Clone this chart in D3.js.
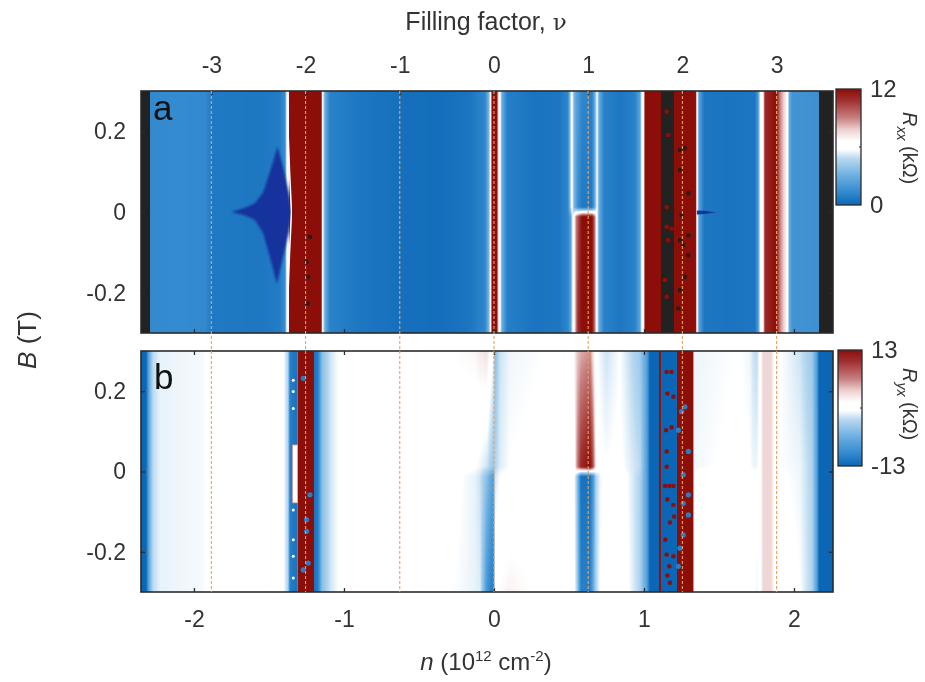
<!DOCTYPE html>
<html>
<head>
<meta charset="utf-8">
<script src="https://cdn.jsdelivr.net/npm/d3@7"></script>
<style>
  html, body { margin: 0; background: #fff; }
  #wrap { position: relative; width: 925px; height: 682px; overflow: hidden; }
  canvas { position: absolute; filter: blur(0.5px); }
  svg { position: absolute; left: 0; top: 0; }
  text { font-family: "Liberation Sans", Arial, sans-serif; fill: #333; }
</style>
</head>
<body>
<div id="wrap"></div>
<script>
// colour map shared by both panels, t in 0..1
const cmapT = [0, 0.1, 0.25, 0.4, 0.48, 0.55, 0.65, 0.75, 0.9, 1];
const cmapColors = ["#0b66b5", "#2f87cd", "#6aaee0", "#b8d8f0", "#ffffff", "#ffffff", "#ecd0d0", "#c88080", "#a03030", "#8b0e08"];

const nTicks = [-2, -1, 0, 1, 2];
const nuTicks = [-3, -2, -1, 0, 1, 2, 3];
const bTicks = [-0.2, 0, 0.2];
const nPerNu = 0.628;

// panel a, Rxx (kOhm): NaN = no data (dark bands)
const nA = [-2.353, -2.296, -2.293, -2.12, -1.927, -1.88, -1.56, -1.427, -1.393, -1.38, -1.37, -1.367, -1.153, -1.143, -1.127, -1.093, -0.893, -0.627, -0.36, -0.16, -0.06, -0.033, -0.02, -0.01, 0.017, 0.027, 0.04, 0.053, 0.087, 0.273, 0.44, 0.493, 0.513, 0.52, 0.533, 0.547, 0.56, 0.587, 0.653, 0.673, 0.687, 0.7, 0.733, 0.84, 0.94, 0.973, 0.987, 1.0, 1.007, 1.113, 1.117, 1.194, 1.197, 1.343, 1.353, 1.367, 1.4, 1.573, 1.74, 1.76, 1.777, 1.793, 1.807, 1.88, 1.907, 1.947, 1.957, 1.97, 1.987, 2.167, 2.17, 2.26];
const rxxTop = [NaN, NaN, 1.3, 1.4, 1.3, 0.7, 0.6, 0.8, 1.5, 6.2, 6.5, 12, 12, 6.5, 3, 1, 0.6, 0.35, 0.3, 0.55, 1.2, 3.5, 8, 12, 12, 8, 6.2, 3, 0.9, 0.5, 0.6, 1.2, 5, 6.2, 3.5, 2.5, 2.2, 1.2, 1, 3, 6, 3, 1, 0.6, 1, 2.5, 6.2, 7, 12, 12, NaN, NaN, 12, 12, 6.5, 2.5, 0.6, 0.5, 0.6, 2, 6.2, 6.5, 11, 12, 9, 7, 6.2, 3, 1.8, 1.6, NaN, NaN];
const rxxNearP = [NaN, NaN, 1.3, 1.4, 1.3, 0.7, 0.6, 0.8, 1.5, 6.2, 6.5, 12, 12, 6.5, 3, 1, 0.6, 0.35, 0.3, 0.55, 1.2, 3.5, 8, 12, 12, 8, 6.2, 3, 0.9, 0.5, 0.6, 1.2, 5, 6.2, 3.5, 2.5, 1.5, 0.7, 0.7, 3, 6, 3, 1, 0.6, 1, 2.5, 6.2, 7, 12, 12, NaN, NaN, 12, 12, 6.5, 2.5, 0.6, 0.5, 0.6, 2, 6.2, 6.5, 11, 12, 9, 7, 6.2, 3, 1.8, 1.6, NaN, NaN];
const rxxNearM = [NaN, NaN, 1.3, 1.4, 1.3, 0.7, 0.6, 0.8, 1.5, 6.2, 6.5, 12, 12, 6.5, 3, 1, 0.6, 0.35, 0.3, 0.55, 1.2, 3.5, 8, 12, 12, 8, 6.2, 3, 0.9, 0.5, 0.6, 1.2, 2.5, 5, 6.2, 9, 10, 12, 12, 9, 6, 3, 1, 0.6, 1, 2.5, 6.2, 7, 12, 12, NaN, NaN, 12, 12, 6.5, 2.5, 0.6, 0.5, 0.6, 2, 6.2, 6.5, 11, 12, 9, 7, 6.2, 3, 1.8, 1.6, NaN, NaN];
const rxxBottom = [NaN, NaN, 1.3, 1.4, 1.3, 0.7, 0.6, 0.8, 1.5, 6.2, 6.5, 12, 12, 6.5, 3, 1, 0.6, 0.35, 0.3, 0.55, 1.2, 3.5, 8, 12, 12, 8, 6.2, 3, 0.9, 0.5, 0.6, 1.2, 2.5, 5, 6.2, 9, 11, 12, 12, 9, 6, 3, 1, 0.6, 1, 2.5, 6.2, 7, 12, 12, NaN, NaN, 12, 12, 6.5, 2.5, 0.6, 0.5, 0.6, 2, 6.2, 6.5, 11, 12, 9, 7, 6.2, 3, 1.8, 1.6, NaN, NaN];
const rowsB_A = [0.3, 0.012, -0.012, -0.3];

// dark wedge beside nu = -2 and the streak beside nu = 2
const wedgeN = [-1.749, -1.66, -1.593, -1.54, -1.493, -1.443, -1.407, -1.367, -1.35, -1.367, -1.407, -1.447, -1.493, -1.54, -1.593, -1.66];
const wedgeB = [0, 0.01, 0.022, 0.047, 0.099, 0.161, 0.112, 0.047, 0, -0.05, -0.112, -0.177, -0.112, -0.05, -0.02, -0.008];
const edgeN = [-1.377, -1.373, -1.363, -1.35, -1.363, -1.373, -1.377];
const edgeB = [0.3, 0.2, 0.1, 0, -0.1, -0.2, -0.3];
const streakN = [1.353, 1.4, 1.48, 1.4, 1.353];
const streakB = [0.004, 0.003, -0.001, -0.005, -0.006];

// specks in the saturated bands of panel a
const darkSpecksN = [1.24, 1.273, 1.24, 1.251, 1.296, 1.262, 1.296, 1.24, 1.273, 1.24, 1.229, 1.296, -1.227, -1.249, -1.238, -1.242];
const darkSpecksB = [0.154, 0.158, 0.104, -0.008, -0.058, -0.082, -0.107, -0.07, -0.161, -0.194, -0.239, 0.046, -0.062, -0.124, -0.161, -0.227];
const redSpecksAN = [1.162, 1.151, 1.151, 1.162, 1.14, 1.151, 1.184, 1.151];
const redSpecksAB = [0.191, 0.012, -0.037, -0.07, -0.169, 0.249, -0.041, -0.21];

// panel b, Ryx (kOhm)
const nB = [-2.353, -2.32, -2.3, -2.273, -2.227, -1.96, -1.88, -1.727, -1.627, -1.46, -1.407, -1.373, -1.36, -1.32, -1.31, -1.307, -1.2, -1.197, -1.173, -1.147, -1.093, -1.027, -0.627, -0.493, -0.26, -0.127, -0.093, -0.047, -0.02, -0.003, 0.007, 0.04, 0.107, 0.307, 0.507, 0.533, 0.553, 0.58, 0.64, 0.66, 0.68, 0.707, 0.747, 0.84, 0.973, 1.02, 1.04, 1.1, 1.102, 1.11, 1.113, 1.22, 1.223, 1.32, 1.327, 1.333, 1.373, 1.64, 1.707, 1.727, 1.753, 1.773, 1.793, 1.847, 1.867, 1.893, 1.92, 2.04, 2.12, 2.153, 2.167, 2.26];
const ryxTop = [-13, -13, -7, -2.5, -1.2, -0.8, -0.3, 0, 0.3, 0.3, -0.2, -3, -11, -12, -12, 13, 13, -12, -11, -5, -2, -0.3, 0, 0.8, 1.4, 1.8, 2.5, 3, 0.5, -1, -5, -2, -1, -0.6, -0.2, 1.5, 4, 5, 6, 3, -0.4, -1, -2, -0.6, -4, -8, -13, -13, 13, 13, -13, -13, 13, 13, 13, -1, -1, -0.5, -1, -2, -2.5, 0, 3.5, 3.5, 1.5, 0.3, -0.6, -2, -4, -8, -13, -13];
const ryxNearP = [-13, -13, -7, -2.5, -1.2, -0.8, -0.3, 0, 0, 0, -0.2, -3, -11, -12, -12, 13, 13, -12, -11, -5, -2, -0.3, 0, 0, 0, -0.3, -1, -2, -3.5, -4, -3, -1.5, -0.5, -0.2, -0.1, 0, 6, 11, 13, 9, 2, -0.2, -0.5, -0.2, -2.5, -8, -13, -13, 13, 13, -13, -13, 13, 13, 13, -1, -0.8, -0.2, -0.5, -1, -1, 0, 3.5, 3.5, 1.5, 0.3, -0.6, -1, -3, -8, -13, -13];
const ryxNearM = [-13, -13, -7, -2.5, -1.2, -0.8, -0.3, 0, 0, 0, -0.2, -3, -11, -12, -12, 13, 13, -12, -11, -5, -2, -0.3, 0, 0, -0.2, -1.2, -2, -5, -7, -8, -2, -0.5, 0, 0.6, 0.8, 0, -4, -12, -12, -9, -3, -1, 0, 0.8, -3, -8, -13, -13, 13, 13, -13, -13, 13, 13, 13, -1, 0.5, 0.5, 0.2, 0, 0, 0, 3.5, 3.5, 1.5, 0.3, -0.3, -1, -3, -8, -13, -13];
const ryxBottom = [-13, -13, -7, -2.5, -1.2, -0.8, -0.3, 0, 0, 0, -0.2, -3, -11, -12, -12, 13, 13, -12, -11, -5, -2, -0.3, 0, -0.2, -0.6, -1.2, -1.5, -9, -11, -11, 1, 1.5, 2, 1, 0.6, 0, -3, -11, -11, -7, -3, -0.5, 1, 1.4, -3, -8, -13, -13, 13, 13, -13, -13, 13, 13, 13, -1, 1, 0.8, 0.5, 0, -1, 0, 3.5, 3.5, 1.5, 0.3, 0.3, -0.5, -3, -8, -13, -13];
const rowsB_B = [0.3, 0.012, -0.012, -0.3];

// specks in the saturated bands of panel b
const blueSpecksN = [1.273, 1.296, 1.262, 1.296, 1.262, 1.296, 1.262, 1.24, 1.229, 1.229, 1.251, -1.227, -1.249, -1.249, -1.238, -1.271, -1.271];
const blueSpecksB = [0.161, 0.05, -0.008, -0.058, -0.079, -0.108, -0.158, -0.191, -0.236, 0.103, 0.149, -0.058, -0.12, -0.149, -0.228, 0.232, -0.245];
const redSpecksBN = [1.151, 1.184, 1.156, 1.196, 1.147, 1.184, 1.151, 1.151, 1.14, 1.169, 1.196, 1.156, 1.196, 1.2, 1.173, 1.142, 1.151, 1.196, 1.169, 1.156, 1.173];
const redSpecksBB = [0.248, 0.248, 0.194, 0.186, 0.103, 0.11, 0.05, 0.012, -0.036, -0.036, -0.036, -0.069, -0.083, -0.112, -0.127, -0.17, -0.207, -0.211, -0.236, -0.259, -0.277];
const whiteSpecksN = [-1.338, -1.338, -1.338, -1.338, -1.338, -1.338, -1.338];
const whiteSpecksB = [0.227, 0.199, 0.157, -0.096, -0.17, -0.211, -0.265];
const boxN = [-1.342, -1.309];
const boxB = [-0.078, 0.066];

const W = 925, H = 682;
const left = 141, right = 833;
const panelA = { top: 91, bottom: 333 };
const panelB = { top: 351, bottom: 592 };
const frameColor = "#2b2b2b";
const noData = "#222222";
const dashColor = "#e9a262";

const wrap = d3.select("#wrap");
const cmap = d3.scaleLinear().domain(cmapT).range(cmapColors).clamp(true);
const colorA = (v) => cmap(d3.scaleLinear().domain([0, 12]).range([0, 1])(v));
const colorB = (v) => cmap(d3.scaleLinear().domain([-13, 13]).range([0, 1])(v));

const x = d3.scaleLinear().domain([-2.353, 2.26]).range([left, right]);
const xNu = d3.scaleLinear().domain(x.domain().map((d) => d / nPerNu)).range([left, right]);
const yA = d3.scaleLinear().domain([-0.3, 0.3]).range([panelA.bottom, panelA.top]);
const yB = d3.scaleLinear().domain([-0.3, 0.3]).range([panelB.bottom, panelB.top]);

function drawMap(nStops, rows, rowB, color, y, box) {
  const w = right - left, h = box.bottom - box.top;
  const canvas = wrap.append("canvas")
    .attr("width", w).attr("height", h)
    .style("left", left + "px").style("top", box.top + "px").node();
  const ctx = canvas.getContext("2d");
  const rowScales = rows.map((r) => d3.scaleLinear().domain(nStops).range(r).clamp(true));
  const rowIndex = d3.scaleLinear().domain(rowB).range(d3.range(rowB.length)).clamp(true);
  for (let i = 0; i < w; i++) {
    const n = x.invert(left + i + 0.5);
    const vals = rowScales.map((s) => s(n));
    for (let j = 0; j < h; j++) {
      const k = rowIndex(y.invert(box.top + j + 0.5));
      const k0 = Math.min(Math.floor(k), rows.length - 2);
      const f = k - k0;
      const v = vals[k0] * (1 - f) + vals[k0 + 1] * f;
      ctx.fillStyle = Number.isNaN(v) ? noData : color(v);
      ctx.fillRect(i, j, 1, 1);
    }
  }
}

drawMap(nA, [rxxTop, rxxNearP, rxxNearM, rxxBottom], rowsB_A, colorA, yA, panelA);
drawMap(nB, [ryxTop, ryxNearP, ryxNearM, ryxBottom], rowsB_B, colorB, yB, panelB);

const svg = wrap.append("svg").attr("width", W).attr("height", H);
const defs = svg.append("defs");
defs.append("filter").attr("id", "soft").append("feGaussianBlur").attr("stdDeviation", 0.6);
defs.append("filter").attr("id", "softer").append("feGaussianBlur").attr("stdDeviation", 1.3);
defs.append("clipPath").attr("id", "clipA").append("rect")
  .attr("x", left).attr("y", panelA.top).attr("width", right - left).attr("height", panelA.bottom - panelA.top);

// overlays on panel a
const lineA = d3.line().x((d) => x(d[0])).y((d) => yA(d[1]));
const layerA = svg.append("g").attr("clip-path", "url(#clipA)");
layerA.append("path")
  .attr("d", lineA(d3.zip(wedgeN, wedgeB)) + "Z")
  .attr("fill", "#12309c").attr("filter", "url(#softer)");
layerA.append("path")
  .attr("d", lineA(d3.zip(edgeN, edgeB)))
  .attr("fill", "none").attr("stroke", "#fff").attr("stroke-width", 1.6).attr("filter", "url(#soft)");
layerA.append("path")
  .attr("d", lineA(d3.zip(streakN, streakB)) + "Z")
  .attr("fill", "#12309c").attr("filter", "url(#soft)");

function specks(ns, bs, y, fill, r) {
  svg.append("g").attr("filter", "url(#soft)").selectAll("circle")
    .data(d3.zip(ns, bs))
    .join("circle")
    .attr("cx", (d) => x(d[0]))
    .attr("cy", (d) => y(d[1]))
    .attr("r", r)
    .attr("fill", fill);
}
specks(darkSpecksN, darkSpecksB, yA, "#2a1a1a", 2.2);
specks(redSpecksAN, redSpecksAB, yA, "#8b0e08", 2.4);
specks(blueSpecksN, blueSpecksB, yB, "#2a7cc4", 2.6);
specks(redSpecksBN, redSpecksBB, yB, "#8b0e08", 2.2);
specks(whiteSpecksN, whiteSpecksB, yB, "#fff", 1.5);

svg.append("rect")
  .attr("x", x(boxN[0])).attr("y", yB(boxB[1]))
  .attr("width", x(boxN[1]) - x(boxN[0])).attr("height", yB(boxB[0]) - yB(boxB[1]))
  .attr("fill", "#fff").attr("stroke", "#e0a0a0").attr("stroke-width", 0.8);

// frames and axes
function frame(box) {
  svg.append("rect")
    .attr("x", left).attr("y", box.top)
    .attr("width", right - left).attr("height", box.bottom - box.top)
    .attr("fill", "none").attr("stroke", frameColor).attr("stroke-width", 1.6);
}

function styleAxis(g, size) {
  g.select(".domain").remove();
  g.selectAll("line").attr("stroke", frameColor).attr("stroke-width", 1.3);
  g.selectAll("text").attr("font-size", size).attr("font-family", null).attr("fill", "#333");
}

const plain = (d) => String(d);

function addAxes(box, y, labelsBottom, labelsTop) {
  svg.append("g").attr("transform", `translate(${left},0)`)
    .call(d3.axisLeft(y).tickValues(bTicks).tickFormat(plain).tickSizeInner(-4).tickSizeOuter(0).tickPadding(15))
    .call(styleAxis, 23);
  svg.append("g").attr("transform", `translate(${right},0)`)
    .call(d3.axisRight(y).tickValues(bTicks).tickFormat("").tickSizeInner(-4).tickSizeOuter(0))
    .call(styleAxis, 23);
  svg.append("g").attr("transform", `translate(0,${box.bottom})`)
    .call(d3.axisBottom(x).tickValues(nTicks).tickFormat(labelsBottom ? plain : "").tickSizeInner(-4).tickSizeOuter(0).tickPadding(19))
    .call(styleAxis, 23);
  if (labelsTop) {
    svg.append("g").attr("transform", `translate(0,${box.top})`)
      .call(d3.axisTop(xNu).tickValues(nuTicks).tickFormat(plain).tickSizeInner(-4).tickSizeOuter(0).tickPadding(18))
      .call(styleAxis, 23);
  } else {
    svg.append("g").attr("transform", `translate(0,${box.top})`)
      .call(d3.axisTop(x).tickValues(nTicks).tickFormat("").tickSizeInner(-4).tickSizeOuter(0))
      .call(styleAxis, 23);
  }
  frame(box);
}
addAxes(panelA, yA, false, true);
addAxes(panelB, yB, true, false);

// dashed integer filling lines run through both panels
svg.append("g").selectAll("line")
  .data(nuTicks)
  .join("line")
  .attr("x1", (d) => xNu(d)).attr("x2", (d) => xNu(d))
  .attr("y1", panelA.top).attr("y2", panelB.bottom)
  .attr("stroke", dashColor).attr("stroke-width", 1.1).attr("stroke-dasharray", "3 2");

// panel letters
svg.append("text").attr("x", 153).attr("y", 120).attr("font-size", 35).attr("fill", "#111").style("fill", "#111").text("a");
svg.append("text").attr("x", 154).attr("y", 389).attr("font-size", 35).style("fill", "#111").text("b");

// axis titles
svg.append("text").attr("x", 486).attr("y", 30).attr("text-anchor", "middle").attr("font-size", 25)
  .text("Filling factor, ").append("tspan").style("font-family", "'DejaVu Serif', serif").attr("font-size", 23).text("ν");
const nTitle = svg.append("text").attr("x", 486).attr("y", 670).attr("text-anchor", "middle").attr("font-size", 24);
nTitle.append("tspan").attr("font-style", "italic").text("n");
nTitle.append("tspan").text(" (10");
nTitle.append("tspan").attr("font-size", 15).attr("dy", -9).text("12");
nTitle.append("tspan").attr("dy", 9).text(" cm");
nTitle.append("tspan").attr("font-size", 15).attr("dy", -9).text("-2");
nTitle.append("tspan").attr("dy", 9).text(")");
const bTitle = svg.append("text").attr("transform", "translate(36,340) rotate(-90)").attr("text-anchor", "middle").attr("font-size", 26);
bTitle.append("tspan").attr("font-style", "italic").text("B");
bTitle.append("tspan").text(" (T)");

// colour bars
function colorbar(id, domain, color, x0, x1, y0, y1, sub, labelY) {
  const grad = defs.append("linearGradient").attr("id", id)
    .attr("x1", 0).attr("x2", 0).attr("y1", 1).attr("y2", 0);
  grad.selectAll("stop")
    .data(cmapT)
    .join("stop")
    .attr("offset", (d) => d)
    .attr("stop-color", (d) => cmap(d));
  svg.append("rect")
    .attr("x", x0).attr("y", y0).attr("width", x1 - x0).attr("height", y1 - y0)
    .attr("fill", `url(#${id})`).attr("stroke", frameColor).attr("stroke-width", 1.3);
  const scale = d3.scaleLinear().domain(domain).range([y1, y0]);
  svg.append("g").attr("transform", `translate(${x1},0)`)
    .call(d3.axisRight(scale).tickValues(domain).tickFormat(plain).tickSize(0).tickPadding(9))
    .call(styleAxis, 24);
  svg.append("line")
    .attr("x1", x1 - 2).attr("x2", x1)
    .attr("y1", scale((domain[0] + domain[1]) / 2)).attr("y2", scale((domain[0] + domain[1]) / 2))
    .attr("stroke", frameColor);
  const t = svg.append("text").attr("transform", `translate(903,${labelY}) rotate(90)`).attr("font-size", 20);
  t.append("tspan").attr("font-style", "italic").text("R");
  t.append("tspan").attr("font-style", "italic").attr("font-size", 14).attr("dy", 6).text(sub);
  t.append("tspan").attr("dy", -6).text(" (kΩ)");
}
colorbar("barA", [0, 12], colorA, 836, 861, 89, 205, "xx", 112);
colorbar("barB", [-13, 13], colorB, 838, 862, 350, 466, "yx", 368);
</script>
</body>
</html>
